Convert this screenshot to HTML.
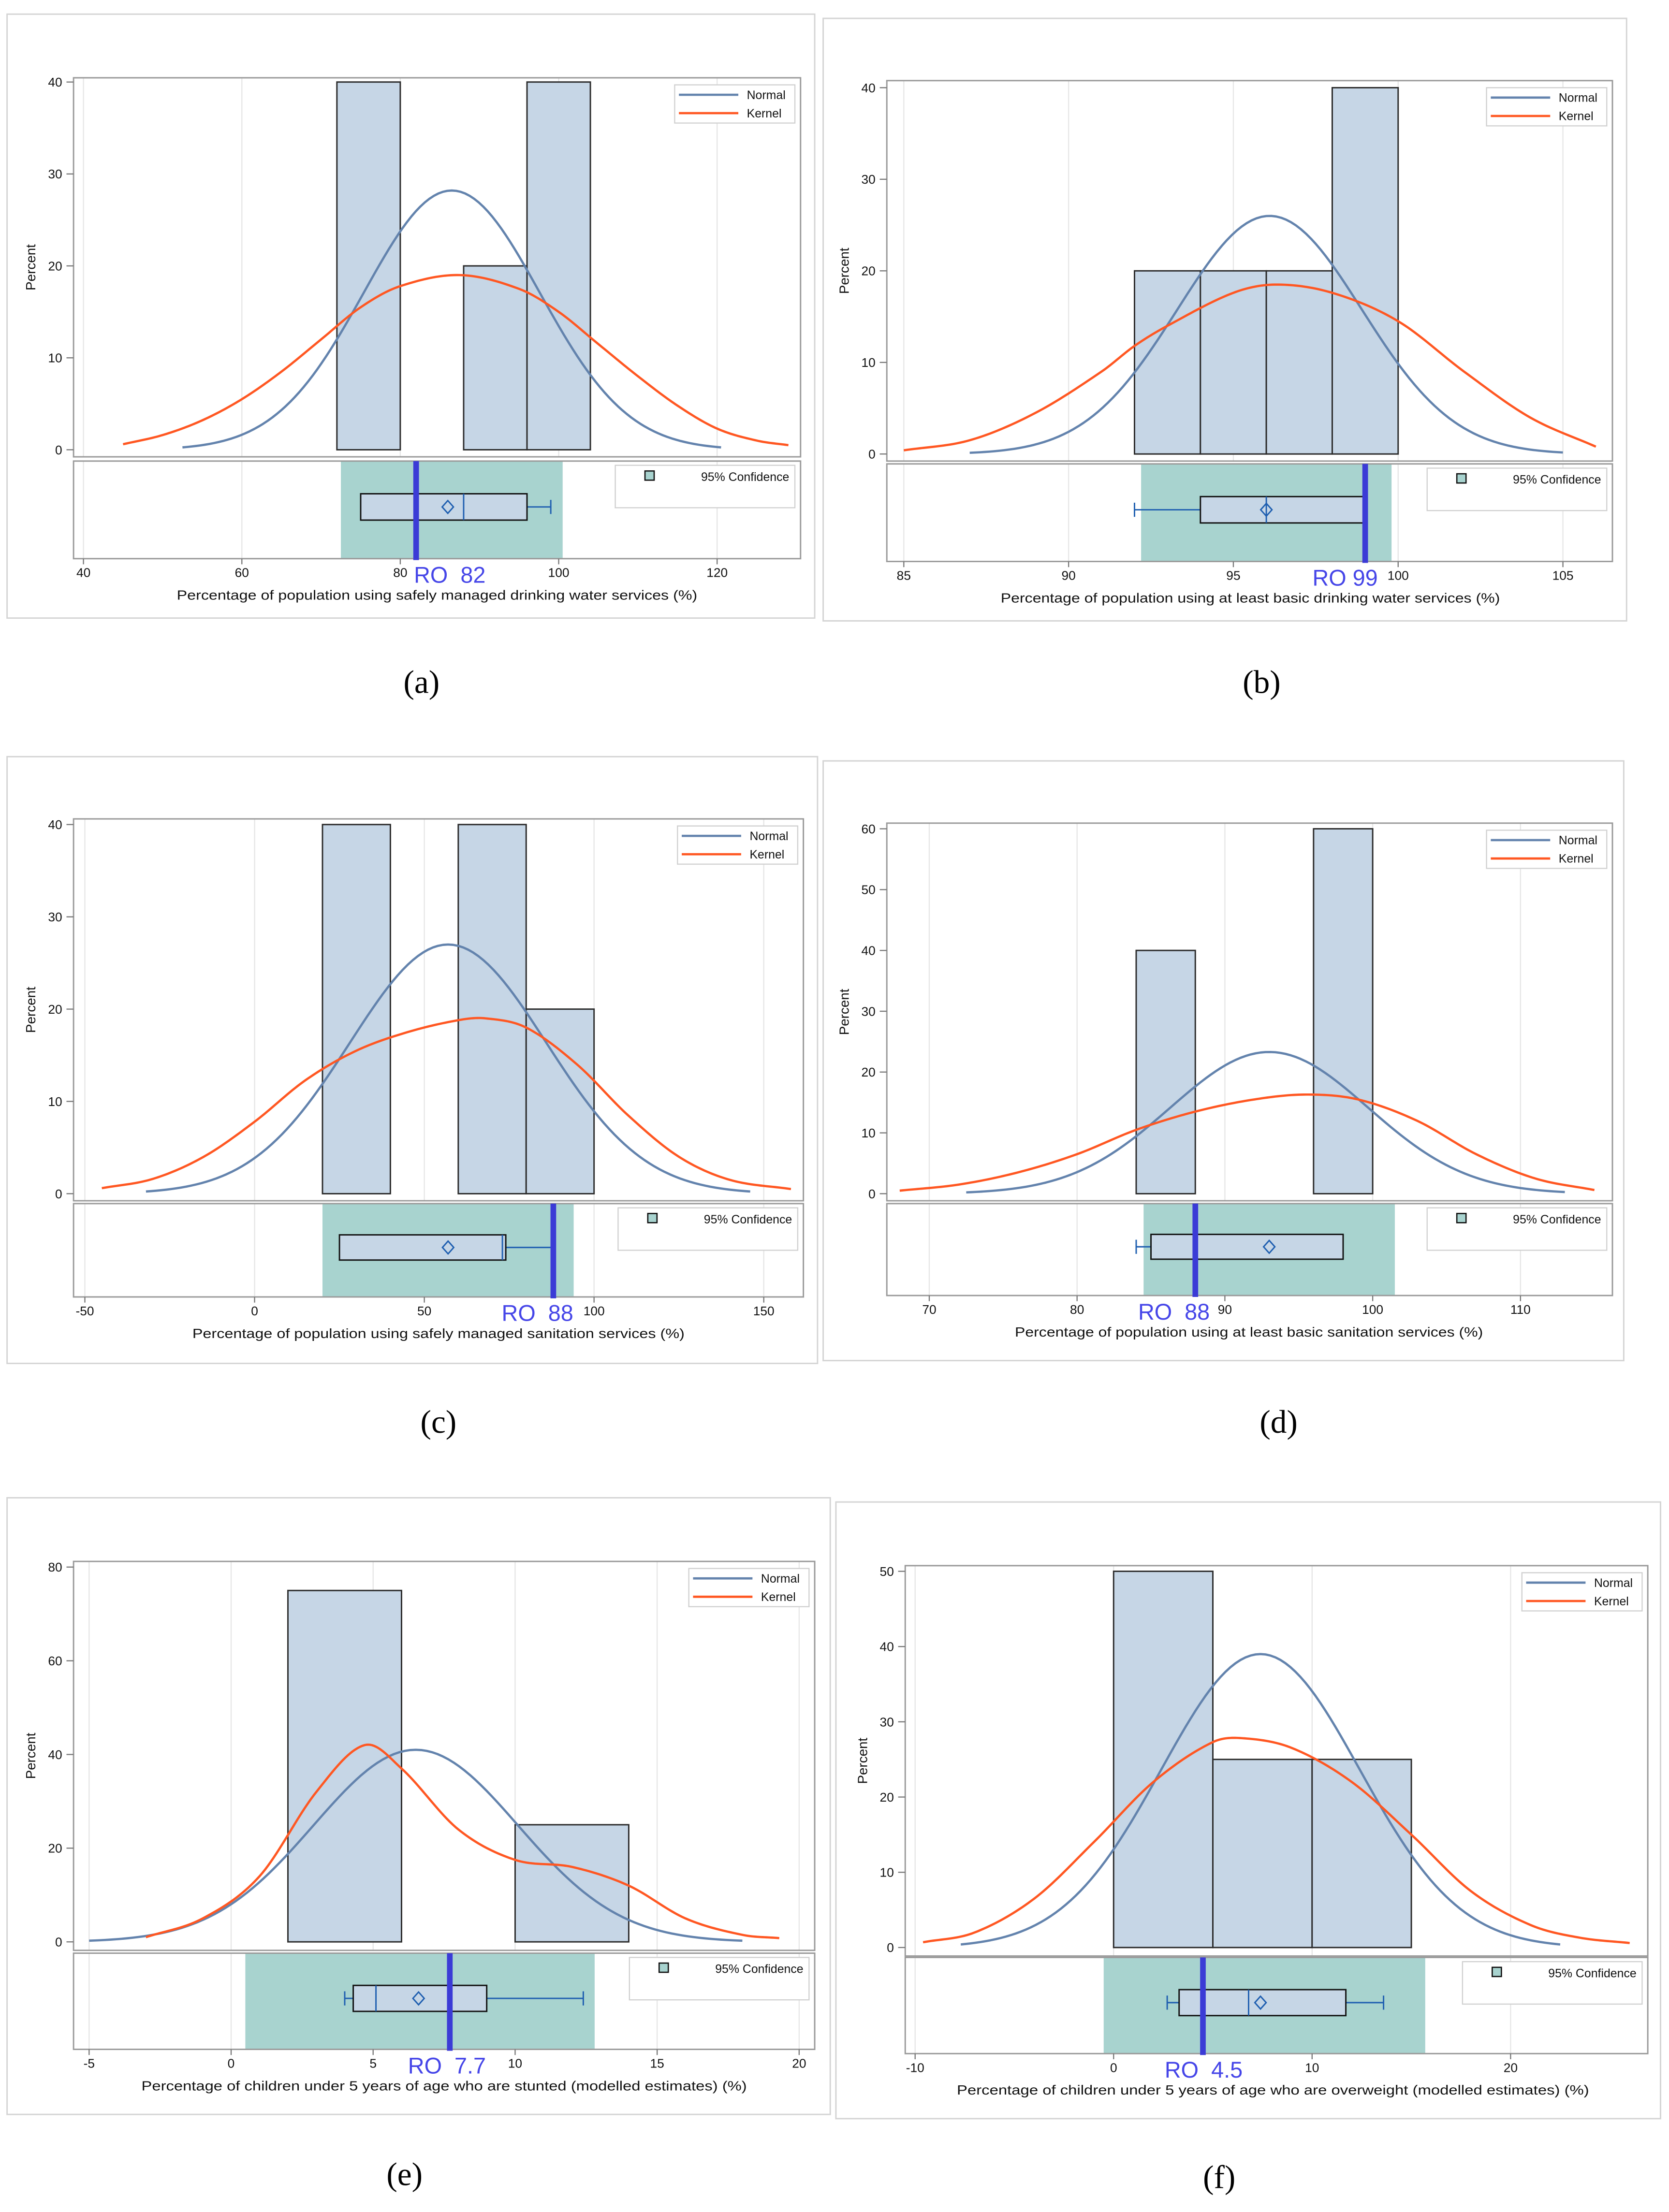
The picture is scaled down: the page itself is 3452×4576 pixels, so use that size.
<!DOCTYPE html>
<html><head><meta charset="utf-8"><style>
html,body{margin:0;padding:0;background:#fff}
svg{display:block}
text{font-family:"Liberation Sans",sans-serif}
</style></head><body>
<svg id="fig" xmlns="http://www.w3.org/2000/svg" width="3452" height="4576" viewBox="0 0 1180 1564" preserveAspectRatio="none"></svg>
<script>
// ---------- DATA ----------
const xTicksA=[40,60,80,100,120], yTicksA=[0,10,20,30,40];
const binEdgesA=[72,80,88,96,104], binPctA=[40,0,20,40];
const normalA=[86.5,11.1,28.2], normalRangeA=[52.5,120.5];
const kernelXA=[45,50,55,60,65,70,75,80,87.5,95,100,105,110,115,120,125,129];
const kernelYA=[0.6,1.6,3.2,5.5,8.5,12,15.5,17.8,19,17.5,15,11.5,8,4.8,2.3,1,0.5];
const boxA=[75,75,88,96,99], meanA=86, ciA=[72.5,100.5], roA=82, roLabelA="RO\u00a0\u00a082";
const titleA="Percentage of population using safely managed drinking water services (%)";

const xTicksB=[85,90,95,100,105], yTicksB=[0,10,20,30,40];
const binEdgesB=[92,94,96,98,100], binPctB=[20,20,20,40];
const normalB=[96.1,2.8,26], normalRangeB=[87,105];
const kernelXB=[85,87,89,91,92,93,95,96.3,98,100,102,104,106];
const kernelYB=[0.4,1.5,4.5,9,11.8,14,17.6,18.5,17.6,14.5,9,4,0.8];
const boxB=[92,94,96,99,99], meanB=96, ciB=[92.2,99.8], roB=99, roLabelB="RO\u00a099";
const titleB="Percentage of population using at least basic drinking water services (%)";

const xTicksC=[-50,0,50,100,150], yTicksC=[0,10,20,30,40];
const binEdgesC=[20,40,60,80,100], binPctC=[40,0,40,20];
const normalC=[57,28.9,27], normalRangeC=[-32,146];
const kernelXC=[-45,-30,-15,0,15,30,45,60,68,80,95,110,125,140,158];
const kernelYC=[0.6,1.6,4,7.8,12.3,15.5,17.5,18.8,19,18,14,8.5,4,1.5,0.5];
const boxC=[25,25,73,74,88], meanC=57, ciC=[20,94], roC=88, roLabelC="RO\u00a0\u00a088";
const titleC="Percentage of population using safely managed sanitation services (%)";

const xTicksD=[70,80,90,100,110], yTicksD=[0,10,20,30,40,50,60];
const binEdgesD=[84,88,92,96,100], binPctD=[40,0,0,60];
const normalD=[93,6.7,23.3], normalRangeD=[72.5,113];
const kernelXD=[68,72,76,80,84,88,92,95.5,99,103,107,111,115];
const kernelYD=[0.5,1.5,3.5,6.5,10.5,13.5,15.5,16.3,15.5,12,6.5,2.5,0.6];
const boxD=[84,85,88,98,98], meanD=93, ciD=[84.5,101.5], roD=88, roLabelD="RO\u00a0\u00a088";
const titleD="Percentage of population using at least basic sanitation services (%)";

const xTicksE=[-5,0,5,10,15,20], yTicksE=[0,20,40,60,80];
const binEdgesE=[2,6,10,14], binPctE=[75,0,25];
const normalE=[6.5,3.6,41], normalRangeE=[-5,18];
const kernelXE=[-3,-1,1,3,4.7,6,8,10,12,14,16,18,19.3];
const kernelYE=[1,5,14,32,42,37,24,17.5,16,12,5,1.5,0.8];
const boxE=[4,4.3,5.1,9,12.4], meanE=6.6, ciE=[0.5,12.8], roE=7.7, roLabelE="RO\u00a0\u00a07.7";
const titleE="Percentage of children under 5 years of age who are stunted (modelled estimates) (%)";

const xTicksF=[-10,0,10,20], yTicksF=[0,10,20,30,40,50];
const binEdgesF=[0,5,10,15], binPctF=[50,25,25];
const normalF=[7.4,5.0,39], normalRangeF=[-7.7,22.5];
const kernelXF=[-9.6,-7,-4,-1,2,5,6.6,9,12,15,18,21,23.5,26];
const kernelYF=[0.7,2,6.5,14,22,27.3,27.8,26.5,22,15,7.5,3,1.3,0.6];
const boxF=[2.7,3.3,6.8,11.7,13.6], meanF=7.4, ciF=[-0.5,15.7], roF=4.5, roLabelF="RO\u00a0\u00a04.5";
const titleF="Percentage of children under 5 years of age who are overweight (modelled estimates) (%)";

// ---------- LAYOUT ----------
const panels=[
 {id:'a',outer:[5,10,576,437],fx:[52,566],hy:[55,323],y0:318,yTop:58,by:[326,395],xa:[40,59,120,507],roX:318,tw:368,tcx:309,cap:[298,485],
  xt:xTicksA,yt:yTicksA,be:binEdgesA,bp:binPctA,nm:normalA,nr:normalRangeA,kx:kernelXA,ky:kernelYA,box:boxA,mean:meanA,ci:ciA,ro:roA,rol:roLabelA,title:titleA},
 {id:'b',outer:[582,13,1150,439],fx:[627,1140],hy:[57,326],y0:321,yTop:62,by:[328,397],xa:[85,639,105,1105],roX:951,tw:353,tcx:884,cap:[892,485],
  xt:xTicksB,yt:yTicksB,be:binEdgesB,bp:binPctB,nm:normalB,nr:normalRangeB,kx:kernelXB,ky:kernelYB,box:boxB,mean:meanB,ci:ciB,ro:roB,rol:roLabelB,title:titleB},
 {id:'c',outer:[5,535,578,964],fx:[52,568],hy:[579,849],y0:844,yTop:583,by:[851,917],xa:[-50,60,150,540],roX:380,tw:348,tcx:310,cap:[310,1008],
  xt:xTicksC,yt:yTicksC,be:binEdgesC,bp:binPctC,nm:normalC,nr:normalRangeC,kx:kernelXC,ky:kernelYC,box:boxC,mean:meanC,ci:ciC,ro:roC,rol:roLabelC,title:titleC},
 {id:'d',outer:[582,538,1148,962],fx:[627,1140],hy:[582,849],y0:844,yTop:586,by:[851,916],xa:[70,657,110,1075],roX:830,tw:331,tcx:883,cap:[904,1008],
  xt:xTicksD,yt:yTicksD,be:binEdgesD,bp:binPctD,nm:normalD,nr:normalRangeD,kx:kernelXD,ky:kernelYD,box:boxD,mean:meanD,ci:ciD,ro:roD,rol:roLabelD,title:titleD},
 {id:'e',outer:[5,1059,587,1495],fx:[52,576],hy:[1104,1379],y0:1373,yTop:1108,by:[1381,1449],xa:[-5,63,20,565],roX:316,tw:428,tcx:314,cap:[286,1540],
  xt:xTicksE,yt:yTicksE,be:binEdgesE,bp:binPctE,nm:normalE,nr:normalRangeE,kx:kernelXE,ky:kernelYE,box:boxE,mean:meanE,ci:ciE,ro:roE,rol:roLabelE,title:titleE},
 {id:'f',outer:[591,1062,1174,1498],fx:[640,1165],hy:[1107,1383],y0:1377,yTop:1111,by:[1384,1452],xa:[-10,647,20,1068],roX:851,tw:447,tcx:900,cap:[862,1542],
  xt:xTicksF,yt:yTicksF,be:binEdgesF,bp:binPctF,nm:normalF,nr:normalRangeF,kx:kernelXF,ky:kernelYF,box:boxF,mean:meanF,ci:ciF,ro:roF,rol:roLabelF,title:titleF}
];

const NS='http://www.w3.org/2000/svg';
const svg=document.getElementById('fig');
function mk(tag,parent,attrs){const e=document.createElementNS(NS,tag);for(const k in attrs)e.setAttribute(k,attrs[k]);parent.appendChild(e);return e;}
function polyline(pts){return 'M'+pts.map(p=>p[0].toFixed(2)+','+p[1].toFixed(2)).join(' L');}
// Hermite spline in data space (handles uneven x spacing)
function spline(xv,yv){const n=xv.length,m=[];
 for(let i=0;i<n;i++){if(i==0)m.push((yv[1]-yv[0])/(xv[1]-xv[0]));else if(i==n-1)m.push((yv[n-1]-yv[n-2])/(xv[n-1]-xv[n-2]));
  else m.push((yv[i+1]-yv[i-1])/(xv[i+1]-xv[i-1]));}
 const out=[];
 for(let i=0;i<n-1;i++){const h=xv[i+1]-xv[i];const steps=20;
  for(let s=0;s<steps;s++){const t=s/steps,t2=t*t,t3=t2*t;
   const y=(2*t3-3*t2+1)*yv[i]+(t3-2*t2+t)*h*m[i]+(-2*t3+3*t2)*yv[i+1]+(t3-t2)*h*m[i+1];
   out.push([xv[i]+h*t,y]);}}
 out.push([xv[n-1],yv[n-1]]);return out;}

panels.forEach(P=>{
 const g=mk('g',svg,{});
 
 
 const xs=v=>P.xa[1]+(v-P.xa[0])*(P.xa[3]-P.xa[1])/(P.xa[2]-P.xa[0]);
 const ymax=P.yt[P.yt.length-1];
 const ys=v=>P.y0+(P.yTop-P.y0)*v/ymax;
 const [fx0,fx1]=P.fx,[hy0,hy1]=P.hy,[by0,by1]=P.by;
 const o=P.outer;
 const ob=mk('rect',g,{x:o[0],y:o[1],width:o[2]-o[0],height:o[3]-o[1],fill:'#fff',stroke:'#d4d4d4','stroke-width':1});
 
 
 P.xt.forEach(t=>{const x=xs(t);
  const gl=mk('line',g,{x1:x,x2:x,y1:hy0,y2:hy1,stroke:'#e6e6e6','stroke-width':0.8});
  
  
  const gl2=mk('line',g,{x1:x,x2:x,y1:by0,y2:by1,stroke:'#e6e6e6','stroke-width':0.8});
  
  });
 P.bp.forEach((v,i)=>{const x0=xs(P.be[i]),x1=xs(P.be[i+1]),y=ys(v);
  const r=mk('rect',g,{x:x0,y:y,width:x1-x0,height:Math.max(0,P.y0-y),fill:'#c6d6e6',stroke:'#2b2b2b','stroke-width':1});
  
  });
 const np=[];const [mu,sd,pk]=P.nm;const n=120;
 for(let i=0;i<=n;i++){const v=P.nr[0]+(P.nr[1]-P.nr[0])*i/n;np.push([xs(v),ys(pk*Math.exp(-((v-mu)**2)/(2*sd*sd)))]);}
 const nc=mk('path',g,{d:polyline(np),fill:'none',stroke:'#6383ad','stroke-width':1.6,'stroke-linejoin':'round'});
 
 
 const kp=spline(P.kx,P.ky).map(p=>[xs(p[0]),ys(p[1])]);
 const kc=mk('path',g,{d:polyline(kp),fill:'none',stroke:'#ff5722','stroke-width':1.6,'stroke-linejoin':'round'});
 
 
 const hf=mk('rect',g,{x:fx0,y:hy0,width:fx1-fx0,height:hy1-hy0,fill:'none',stroke:'#9a9a9a','stroke-width':1});
 
 
 P.yt.forEach(t=>{const y=ys(t);
  mk('line',g,{x1:fx0-5,x2:fx0,y1:y,y2:y,stroke:'#777','stroke-width':0.8});
  const tl=mk('text',g,{x:fx0-8,y:y+3.2,'font-size':9,'text-anchor':'end',fill:'#111'});
  tl.textContent=t;
  
  });
 const yt=mk('text',g,{x:0,y:0,'font-size':9.5,'text-anchor':'middle',fill:'#111',transform:'translate('+(fx0-27)+','+((hy0+hy1)/2)+') rotate(-90)'});
 yt.textContent='Percent';
 
 
 const lx=fx1-89,ly=hy0+5;
 const lg=mk('g',g,{});
 
 
 mk('rect',lg,{x:lx,y:ly,width:85,height:27,fill:'#fff',stroke:'#d0d0d0','stroke-width':0.8});
 mk('line',lg,{x1:lx+3,x2:lx+45,y1:ly+7,y2:ly+7,stroke:'#6383ad','stroke-width':1.6});
 mk('line',lg,{x1:lx+3,x2:lx+45,y1:ly+20,y2:ly+20,stroke:'#ff5722','stroke-width':1.6});
 const t1=mk('text',lg,{x:lx+51,y:ly+10,'font-size':8.5,fill:'#111'});t1.textContent='Normal';
 
 
 const t2=mk('text',lg,{x:lx+51,y:ly+23,'font-size':8.5,fill:'#111'});t2.textContent='Kernel';
 
 
 const ci=mk('rect',g,{x:xs(P.ci[0]),y:by0,width:xs(P.ci[1])-xs(P.ci[0]),height:by1-by0,fill:'#a8d3cf'});
 
 
 const bf=mk('rect',g,{x:fx0,y:by0,width:fx1-fx0,height:by1-by0,fill:'none',stroke:'#9a9a9a','stroke-width':1});
 
 
 const by=by0+(by1-by0)*0.47, bh=(by1-by0)*0.27;
 const [lo,q1,md,q3,hi]=P.box;
 if(lo<q1){mk('line',g,{x1:xs(lo),x2:xs(q1),y1:by,y2:by,stroke:'#1f5fb0','stroke-width':1});
  mk('line',g,{x1:xs(lo),x2:xs(lo),y1:by-5,y2:by+5,stroke:'#1f5fb0','stroke-width':1});}
 if(hi>q3){mk('line',g,{x1:xs(q3),x2:xs(hi),y1:by,y2:by,stroke:'#1f5fb0','stroke-width':1});
  mk('line',g,{x1:xs(hi),x2:xs(hi),y1:by-5,y2:by+5,stroke:'#1f5fb0','stroke-width':1});}
 const bx=mk('rect',g,{x:xs(q1),y:by-bh/2,width:xs(q3)-xs(q1),height:bh,fill:'#c6d6e6',stroke:'#111','stroke-width':1});
 
 
 mk('line',g,{x1:xs(md),x2:xs(md),y1:by-bh/2,y2:by+bh/2,stroke:'#1f5fb0','stroke-width':1});
 const mx=xs(P.mean);
 const dm=mk('path',g,{d:`M${mx},${by-4.5} L${mx+4},${by} L${mx},${by+4.5} L${mx-4},${by} Z`,fill:'none',stroke:'#1f5fb0','stroke-width':1});
 
 
 const rx=xs(P.ro);
 const rl=mk('line',g,{x1:rx,x2:rx,y1:by0,y2:by1+1,stroke:'#3b3bd6','stroke-width':4});
 
 
 const rt=mk('text',g,{x:P.roX,y:by1+17,'font-size':16,'text-anchor':'middle',fill:'#4646e8'});
 rt.textContent=P.rol;
 
 
 const cx=fx1-131,cy=by0+3;
 const cg=mk('g',g,{});
 
 
 mk('rect',cg,{x:cx,y:cy,width:127,height:30,fill:'#fff',stroke:'#d0d0d0','stroke-width':0.8});
 mk('rect',cg,{x:cx+21,y:cy+4,width:6.5,height:6.5,fill:'#a8d3cf',stroke:'#111','stroke-width':0.9});
 const ct=mk('text',cg,{x:cx+123,y:cy+11,'font-size':8.5,'text-anchor':'end',fill:'#111'});ct.textContent='95% Confidence';
 P.xt.forEach(t=>{const x=xs(t);
  mk('line',g,{x1:x,x2:x,y1:by1,y2:by1+4,stroke:'#777','stroke-width':0.8});
  const tl=mk('text',g,{x:x,y:by1+13,'font-size':9,'text-anchor':'middle',fill:'#111'});
  tl.textContent=t;
  
  });
 const xt=mk('text',g,{x:P.tcx,y:by1+29,'font-size':9.5,'text-anchor':'middle',fill:'#111',textLength:P.tw,lengthAdjust:'spacingAndGlyphs'});
 xt.textContent=P.title;
 
 
 const cp=mk('text',svg,{x:P.cap[0],y:P.cap[1]+5,'font-size':23,'text-anchor':'middle',fill:'#000',style:'font-family:"Liberation Serif",serif'});
 cp.textContent='('+P.id+')';
 
 
});
</script>
</body></html>
